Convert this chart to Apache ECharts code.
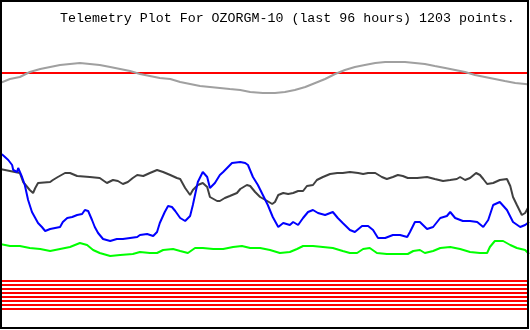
<!DOCTYPE html>
<html>
<head>
<meta charset="utf-8">
<script src="https://cdn.jsdelivr.net/npm/echarts@6/dist/echarts.min.js"></script>
<style>html,body{margin:0;padding:0;background:#fff}#c{width:530px;height:330px}</style>
</head>
<body>
<div id="c"></div>
<script>
// Telemetry, x = hours since start of 96 h window, y = raw channel value
const titleText = 'Telemetry Plot For OZORGM-10 (last 96 hours) 1203 points.';
const hoursRange = [0, 96];
const valueRange = [0, 330];

const grayData = [[0,247],[1.8,251],[3.6,253],[5.4,258],[7.3,261],[9.1,263],[10.9,265],[12.7,266],[14.5,267],[16.3,266],[18.1,265],[20.0,263],[21.8,261],[23.6,259],[25.4,256],[27.2,254],[29.0,252],[30.9,251],[32.7,248],[34.5,246],[36.3,244],[38.1,243],[39.9,242],[41.7,241],[43.6,240],[45.4,238],[47.7,237],[49.9,237],[51.7,238],[53.5,240],[55.4,243],[57.2,247],[59.0,251],[60.8,256],[62.6,260],[64.4,263],[66.2,265],[68.1,267],[69.9,268],[71.7,268],[73.5,268],[75.3,267],[77.1,266],[78.9,264],[80.8,262],[82.6,260],[84.4,258],[86.2,255],[88.0,253],[89.8,251],[91.6,249],[93.5,247],[95.3,246],[96,245.5]];

const blackData = [[0,161],[1.8,159],[2.7,158],[3.6,157],[4.2,148],[5.4,140],[6.0,137],[6.4,142],[6.9,147],[9.1,148],[9.6,150],[10.5,153],[11.8,157],[12.7,157],[14.0,154],[16.3,153],[18.1,152],[19.4,147],[20.5,150],[21.4,149],[22.3,146],[23.2,148],[24.1,152],[24.9,155],[26.0,154],[27.2,157],[28.5,160],[29.6,158],[30.9,155],[32.1,152],[32.7,151],[33.6,142],[34.5,135],[35.0,140],[35.9,145],[36.8,147],[37.6,143],[38.1,133],[39.4,129],[39.9,129],[40.8,132],[41.7,134],[43.0,137],[43.6,141],[44.8,145],[45.4,144],[46.3,138],[47.2,133],[48.5,129],[49.4,126],[49.9,128],[50.5,135],[51.4,137],[52.3,136],[53.2,137],[54.1,139],[55.0,139],[55.7,144],[56.8,145],[57.5,150],[58.6,153],[59.9,156],[61.2,157],[62.2,157],[63.5,158],[65.0,157],[65.9,156],[66.8,157],[68.1,157],[69.3,153],[70.2,151],[71.3,153],[72.2,155],[73.1,154],[74.0,152],[75.7,152],[77.5,153],[78.9,151],[80.4,149],[81.7,150],[82.9,151],[83.5,153],[84.4,150],[85.3,152],[86.4,157],[87.1,155],[87.7,151],[88.4,146],[89.5,147],[90.7,150],[92.0,151],[92.6,144],[93.1,133],[93.8,125],[94.7,115],[95.3,117],[95.8,122]];

const blueData = [[0,177],[0.5,175],[1.5,170],[2.2,165],[2.4,160],[3.1,158],[3.3,162],[3.6,160],[4.0,153],[4.5,145],[5.1,130],[5.8,118],[6.4,112],[6.9,107],[7.6,103],[8.2,99],[9.1,101],[10.0,102],[10.9,103],[11.4,108],[12.2,112],[13.1,113],[14.0,115],[14.9,116],[15.4,120],[16.0,119],[16.7,110],[17.2,103],[17.8,97],[18.7,91],[20.0,89],[21.2,91],[22.3,91],[23.6,92],[24.9,93],[25.4,95],[26.7,96],[27.8,94],[28.5,98],[29.0,107],[29.9,118],[30.5,124],[31.2,123],[31.8,119],[32.7,112],[33.6,109],[34.5,114],[35.0,125],[35.9,148],[36.8,158],[37.6,153],[38.1,142],[39.0,147],[39.9,155],[40.5,158],[42.1,167],[43.6,168],[44.5,167],[45.0,165],[45.9,153],[46.8,145],[47.7,135],[48.6,125],[49.5,113],[50.5,103],[51.4,107],[52.6,105],[53.2,108],[54.1,105],[55.0,112],[55.9,118],[56.8,120],[57.7,117],[59.0,115],[60.4,118],[61.3,112],[62.2,107],[63.5,100],[64.4,98],[65.7,104],[66.8,104],[67.7,100],[68.6,92],[69.9,92],[71.3,95],[72.6,95],[73.9,93],[74.4,98],[75.3,108],[76.2,108],[77.5,101],[78.6,103],[79.9,112],[81.1,114],[81.7,118],[82.6,112],[84.0,109],[85.3,109],[86.6,108],[87.7,103],[88.6,110],[89.5,125],[90.7,128],[92.0,120],[93.1,108],[94.4,103],[95.3,105],[96,108]];

const greenData = [[0,86],[1.8,84],[3.6,84],[5.4,82],[7.3,81],[9.1,79],[10.9,81],[12.7,83],[14.5,87],[15.8,85],[16.9,80],[18.1,77],[20.0,74],[21.8,75],[24.1,76],[25.4,78],[27.2,77],[28.5,77],[29.6,80],[31.4,81],[32.7,79],[34.1,77],[35.4,82],[36.8,82],[38.7,81],[40.5,81],[42.3,83],[43.9,84],[45.4,82],[47.2,82],[49.0,80],[50.8,77],[52.6,78],[53.9,81],[55.0,84],[56.8,84],[58.6,83],[60.4,82],[62.2,79],[63.5,77],[64.8,77],[65.9,81],[67.1,82],[68.4,77],[70.2,76],[72.6,76],[74.0,76],[75.0,79],[76.2,80],[77.1,77],[78.6,79],[79.9,82],[81.7,83],[83.5,81],[85.3,78],[87.1,77],[88.4,77],[88.9,83],[89.8,89],[91.3,89],[92.6,85],[93.8,82],[95.3,80],[96,76]];

const redTopLevel = 257;
const bitLevels = [49, 45, 41, 37, 33, 29, 25, 21];

function flat(v) { return [[hoursRange[0], v], [hoursRange[1], v]]; }

const chart = echarts.init(document.getElementById('c'), null, {renderer: 'canvas'});
const lineBase = {type: 'line', showSymbol: false, silent: true, animation: false};
const series = [];
series.push(Object.assign({}, lineBase, {data: flat(redTopLevel), lineStyle: {color: '#ff0000', width: 2}}));
series.push(Object.assign({}, lineBase, {data: grayData, lineStyle: {color: '#a0a0a0', width: 2}}));
series.push(Object.assign({}, lineBase, {data: blackData, lineStyle: {color: '#404040', width: 2}}));
series.push(Object.assign({}, lineBase, {data: blueData, lineStyle: {color: '#0000ff', width: 2}}));
series.push(Object.assign({}, lineBase, {data: greenData, lineStyle: {color: '#00ff00', width: 2}}));
bitLevels.forEach(v => series.push(Object.assign({}, lineBase, {data: flat(v), lineStyle: {color: '#ff0000', width: 2}})));

chart.setOption({
  animation: false,
  backgroundColor: '#ffffff',
  title: {
    text: titleText, left: 60, top: 12, padding: 0,
    textStyle: {fontFamily: 'Liberation Mono', fontSize: 13.3, fontWeight: 'normal', color: '#000'}
  },
  grid: {left: 0, right: 1, top: 0, bottom: 0, containLabel: false},
  xAxis: {type: 'value', min: hoursRange[0], max: hoursRange[1], show: false},
  yAxis: {type: 'value', min: valueRange[0], max: valueRange[1], show: false},
  series: series,
  graphic: [{
    type: 'rect', silent: true, z: 100,
    shape: {x: 1, y: 1, width: 527, height: 327},
    style: {fill: 'none', stroke: '#000', lineWidth: 2}
  }]
});
</script>
</body>
</html>
